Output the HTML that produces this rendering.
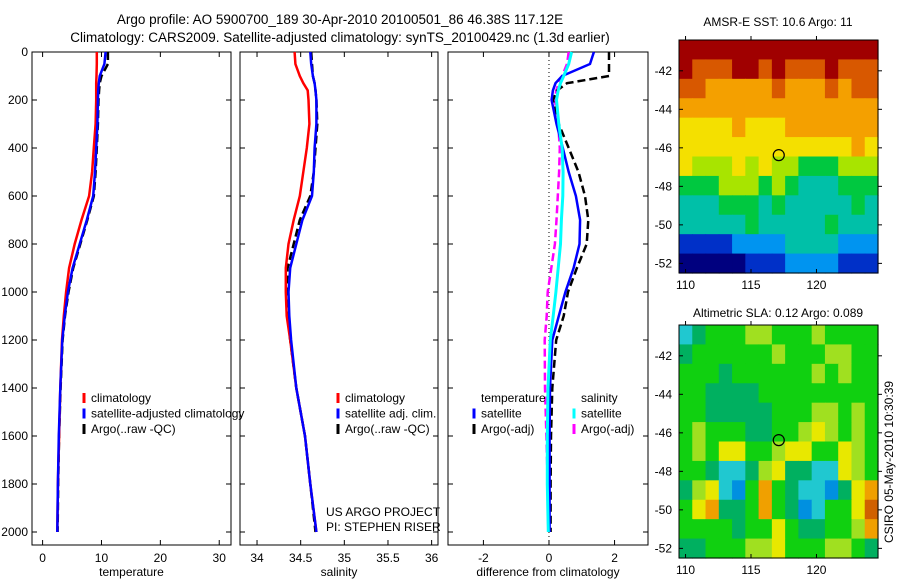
<!DOCTYPE html>
<html><head><meta charset="utf-8"><style>
html,body{margin:0;padding:0;background:#fff;}
svg{display:block;font-family:"Liberation Sans",sans-serif;}
text{fill:#000;}
</style></head><body>
<svg id="fig" width="900" height="580" viewBox="0 0 900 580" xmlns="http://www.w3.org/2000/svg">
<text x="340" y="24" font-size="13.5" text-anchor="middle">Argo profile: AO 5900700_189 30-Apr-2010 20100501_86 46.38S 117.12E</text>
<text x="340" y="42" font-size="13.5" text-anchor="middle">Climatology: CARS2009. Satellite-adjusted climatology: synTS_20100429.nc (1.3d earlier)</text>
<text x="778" y="26" font-size="12" text-anchor="middle">AMSR-E SST: 10.6 Argo: 11</text>
<text x="778" y="317" font-size="12" text-anchor="middle">Altimetric SLA: 0.12 Argo: 0.089</text>
<text transform="translate(893,462) rotate(-90)" font-size="12" text-anchor="middle">CSIRO 05-May-2010 10:30:39</text>
</svg>
<script>
// ---- data ----
const depths = [0,50,100,130,160,200,300,400,500,600,700,800,900,1000,1100,1200,1400,1600,1800,2000];
const tempClim = [9.2,9.2,9.15,9.1,9.1,9.1,9.0,8.7,8.4,7.9,6.6,5.45,4.5,4.0,3.6,3.3,3.0,2.8,2.6,2.5];
const tempSat = [10.7,10.5,9.7,9.55,9.45,9.4,9.3,9.1,8.9,8.6,7.5,6.3,5.1,4.3,3.75,3.35,3.0,2.75,2.6,2.5];
const tempArgo = [11.1,11.1,10.0,9.7,9.6,9.5,9.4,9.2,9.0,8.7,7.6,6.4,5.2,4.4,3.8,3.4,3.05,2.8,2.65,2.55];
const salClim = [34.43,34.44,34.49,34.53,34.58,34.59,34.6,34.57,34.53,34.49,34.42,34.36,34.33,34.33,34.34,34.38,34.45,34.55,34.61,34.68];
const salSat = [34.61,34.62,34.64,34.66,34.67,34.68,34.68,34.66,34.65,34.63,34.52,34.45,34.38,34.36,34.37,34.39,34.45,34.55,34.61,34.68];
const salArgo = [34.62,34.63,34.64,34.66,34.67,34.68,34.69,34.67,34.65,34.61,34.49,34.42,34.35,34.34,34.35,34.38,34.45,34.55,34.61,34.67];
const dTempSat = [1.37,1.25,0.4,0.2,0.12,0.08,0.23,0.42,0.6,0.82,0.95,0.93,0.75,0.5,0.3,0.1,0.03,0.02,0.02,0.02];
const dTempArgo = [1.83,1.83,1.83,0.55,0.25,0.12,0.3,0.6,0.9,1.1,1.2,1.15,0.85,0.58,0.45,0.22,0.1,0.06,0.05,0.05];
const dSalSat = [0.69,0.6,0.45,0.35,0.28,0.23,0.3,0.4,0.43,0.42,0.38,0.35,0.28,0.21,0.13,0.04,-0.03,-0.05,-0.05,-0.02];
const dSalArgo = [0.6,0.55,0.4,0.3,0.22,0.18,0.28,0.33,0.31,0.27,0.23,0.18,0.07,-0.04,-0.07,-0.13,-0.12,-0.08,-0.04,-0.02];
const depthTicks = [0,200,400,600,800,1000,1200,1400,1600,1800,2000];
const tempTicks = [0,10,20,30];
const salTicks = [34,34.5,35,35.5,36];
const diffTicks = [-2,0,2];
const latTicks = [-42,-44,-46,-48,-50,-52];
const lonTicks = [110,115,120];
const sstGrid = ["999999999999999","988899898889888","887777787778788","777777777777777","666676667777777","666666666666676","655565655444555","444555454333444","333444343333343","333334333334333","111122223333222","000001112222111"];
const slaGrid = ["234445544454444","344444454445544","444344444454544","443333444444444","443333344455454","454443344565454","454664456644654","443223563322654","356214743221367","467334743124468","444434464334457","334445564445543"];
const floatLon = 117.12, floatLat = -46.38;

const NS="http://www.w3.org/2000/svg";
const svg=document.getElementById('fig');
function mk(tag,attrs,parent){const e=document.createElementNS(NS,tag);for(const k in attrs)e.setAttribute(k,attrs[k]);(parent||svg).appendChild(e);return e;}

const PY0=52, PY1=545;
const yD = d => 52 + d*0.24;

function panel(name,x0,x1,vmin,vmax,ticks,label,series,showY){
  const g=mk('g',{});
  
  
  const xs = v => x0 + (v-vmin)/(vmax-vmin)*(x1-x0);
  const r=mk('rect',{x:x0,y:PY0,width:x1-x0,height:PY1-PY0,fill:'#fff',stroke:'#000','stroke-width':1},g);
  
  
  ticks.forEach(t=>{
    const x=xs(t);
    mk('line',{x1:x,y1:PY0,x2:x,y2:PY0+5,stroke:'#000'},g);
    mk('line',{x1:x,y1:PY1,x2:x,y2:PY1-5,stroke:'#000'},g);
    const tx=mk('text',{x:x,y:562,'font-size':12,'text-anchor':'middle'},g);
    tx.textContent=t;
    
    
  });
  depthTicks.forEach(d=>{
    const y=yD(d);
    mk('line',{x1:x0,y1:y,x2:x0+5,y2:y,stroke:'#000'},g);
    mk('line',{x1:x1,y1:y,x2:x1-5,y2:y,stroke:'#000'},g);
    if(showY){
      const tx=mk('text',{x:28,y:y+4,'font-size':12,'text-anchor':'end'},g);
      tx.textContent=d;
      
      
    }
  });
  const lt=mk('text',{x:(x0+x1)/2,y:576,'font-size':12,'text-anchor':'middle'},g);
  lt.textContent=label;
  
  
  series.forEach(s=>{
    const pts=s.vals.map((v,i)=>xs(v).toFixed(1)+','+yD(depths[i]).toFixed(1)).join(' ');
    const p=mk('polyline',{points:pts,fill:'none',stroke:s.color,'stroke-width':s.w||2.5,'stroke-dasharray':s.dash||'none'},g);
    
    
  });
  return {g,xs};
}

panel('temperature-panel',32,231,-1.8,32,tempTicks,'temperature',[
  {vals:tempArgo,color:'#000',dash:'8,4',name:'temp-argo-line'},
  {vals:tempClim,color:'#f00',name:'temp-climatology-line'},
  {vals:tempSat,color:'#00f',name:'temp-satellite-line'}],true);
panel('salinity-panel',240,438,33.805,36.073,salTicks,'salinity',[
  {vals:salArgo,color:'#000',dash:'8,4',name:'sal-argo-line'},
  {vals:salClim,color:'#f00',name:'sal-climatology-line'},
  {vals:salSat,color:'#00f',name:'sal-satellite-line'}],false);
const p3=panel('difference-panel',448,648,-3.08,3.02,diffTicks,'difference from climatology',[],false);
const zl=mk('line',{x1:p3.xs(0),y1:PY0,x2:p3.xs(0),y2:PY1,stroke:'#000','stroke-dasharray':'1,3'},p3.g);


[{vals:dSalArgo,color:'#f0f',dash:'8,4',name:'diff-sal-argo-line'},
 {vals:dTempArgo,color:'#000',dash:'8,4',name:'diff-temp-argo-line'},
 {vals:dTempSat,color:'#00f',name:'diff-temp-satellite-line'},
 {vals:dSalSat,color:'#0ff',name:'diff-sal-satellite-line',w:3}].forEach(s=>{
  const pts=s.vals.map((v,i)=>p3.xs(v).toFixed(1)+','+yD(depths[i]).toFixed(1)).join(' ');
  const p=mk('polyline',{points:pts,fill:'none',stroke:s.color,'stroke-width':s.w||2.5,'stroke-dasharray':s.dash||'none'},p3.g);
  
  
});

function legend(x,y,entries,name){
  const g=mk('g',{});
  
  
  entries.forEach((e,i)=>{
    const yy=y+i*15.5;
    if(e.color){
      const m=mk('line',{x1:x,y1:yy-9,x2:x,y2:yy+1,stroke:e.color,'stroke-width':3},g);
    }
    const t=mk('text',{x:x+7,y:yy,'font-size':12},g);
    t.textContent=e.text;
    
    
  });
}
legend(84,402,[{color:'#f00',text:'climatology'},{color:'#00f',text:'satellite-adjusted climatology'},{color:'#000',text:'Argo(..raw -QC)'}],'temperature-legend');
legend(338,402,[{color:'#f00',text:'climatology'},{color:'#00f',text:'satellite adj. clim.'},{color:'#000',text:'Argo(..raw -QC)'}],'salinity-legend');
legend(474,402,[{text:'temperature'},{color:'#00f',text:'satellite'},{color:'#000',text:'Argo(-adj)'}],'diff-temp-legend');
legend(574,402,[{text:'salinity'},{color:'#0ff',text:'satellite'},{color:'#f0f',text:'Argo(-adj)'}],'diff-sal-legend');
const c1=mk('text',{x:326,y:516,'font-size':12}); c1.textContent='US ARGO PROJECT';
 
const c2=mk('text',{x:326,y:531,'font-size':12}); c2.textContent='PI: STEPHEN RISER';
 

// ---- maps ----
const jet=['#00007f','#0030c8','#0094f0','#00c0a8','#00c840','#a8e400','#f4e000','#f4a000','#d85800','#a00000'];
const slaCol=['#0060d0','#0090e0','#20c8d0','#00b060','#10d010','#a0e020','#e8e800','#f0a000','#d06000','#a02000'];
function map(name,y0,grid,cols){
  const x0=679,x1=878,y1=y0+233;
  const lonMin=109.5,lonMax=124.7,latMax=-40.4,latMin=-52.5;
  const lx=v=>x0+(v-lonMin)/(lonMax-lonMin)*(x1-x0);
  const ly=v=>y0+(latMax-v)/(latMax-latMin)*(y1-y0);
  const g=mk('g',{});
  
  
  const nr=grid.length,nc=grid[0].length;
  const cw=(x1-x0)/nc,ch=(y1-y0)/nr;
  grid.forEach((row,r)=>{for(let c=0;c<nc;c++){
    const cell=mk('rect',{x:(x0+c*cw).toFixed(2),y:(y0+r*ch).toFixed(2),width:(cw+0.6).toFixed(2),height:(ch+0.6).toFixed(2),fill:cols[+row[c]]},g);
    
    
  }});
  mk('rect',{x:x0,y:y0,width:x1-x0,height:y1-y0,fill:'none',stroke:'#000'},g);
  latTicks.forEach(t=>{const y=ly(t);
    mk('line',{x1:x0,y1:y,x2:x0+4,y2:y,stroke:'#000'},g);
    mk('line',{x1:x1,y1:y,x2:x1+4,y2:y,stroke:'#000'},g);
    const tx=mk('text',{x:672,y:y+4,'font-size':12,'text-anchor':'end'},g);tx.textContent=t;
    
    
  });
  lonTicks.forEach(t=>{const x=lx(t);
    mk('line',{x1:x,y1:y1,x2:x,y2:y1-4,stroke:'#000'},g);
    mk('line',{x1:x,y1:y0,x2:x,y2:y0-4,stroke:'#000'},g);
    const tx=mk('text',{x:x,y:y1+16,'font-size':12,'text-anchor':'middle'},g);tx.textContent=t;
    
    
  });
  const ci=mk('circle',{cx:lx(floatLon),cy:ly(floatLat),r:5.5,fill:'none',stroke:'#000','stroke-width':1.2},g);
  
  
}
map('sst-map',40,sstGrid,jet);
map('sla-map',325,slaGrid,slaCol);
</script>
</body></html>
